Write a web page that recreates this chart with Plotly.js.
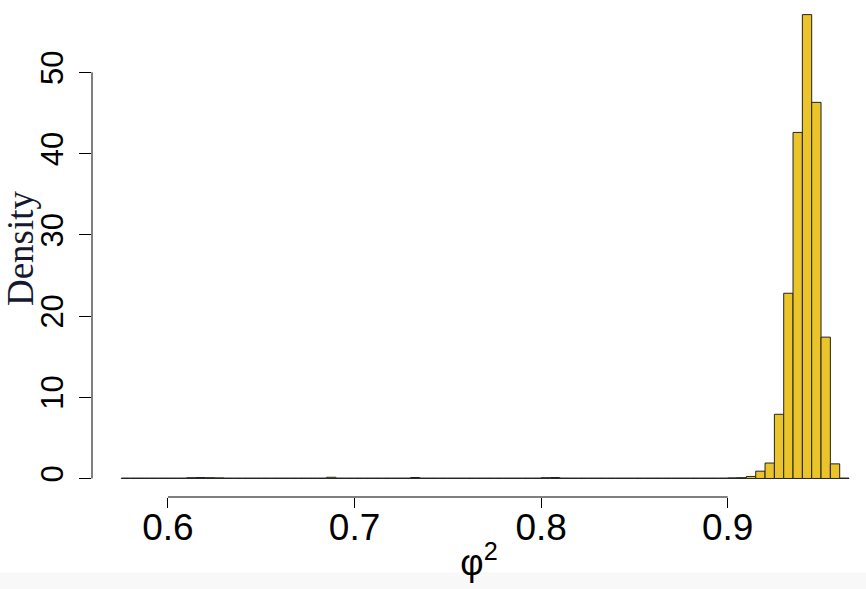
<!DOCTYPE html>
<html>
<head>
<meta charset="utf-8">
<script src="https://cdn.plot.ly/plotly-3.0.1.min.js"></script>
<style>
  html, body { margin: 0; padding: 0; background: #ffffff; }
  #plot { width: 866px; height: 589px; }
</style>
</head>
<body>
<div id="plot"></div>
<script>
// histogram of phi^2, bins of width 0.005 starting at 0.575
var binStart = 0.575;
var binWidth = 0.005;

// density per bin
var density = [
  0.05, 0.05, 0.05, 0.05, 0.05, 0.05, 0.05,          // 0.575 - 0.610
  0.10, 0.12, 0.10, 0.08,                            // 0.610 - 0.630
  0.05, 0.05, 0.05, 0.05, 0.05, 0.05, 0.05, 0.05, 0.05, 0.05, 0.05, // 0.630 - 0.685
  0.15,                                              // 0.685 - 0.690
  0.05, 0.05, 0.05, 0.05, 0.05, 0.05, 0.05, 0.05,    // 0.690 - 0.730
  0.12,                                              // 0.730 - 0.735
  0.05, 0.05, 0.05, 0.05, 0.05, 0.05, 0.05, 0.05, 0.05, 0.05, 0.05, 0.05, 0.05, // 0.735 - 0.800
  0.10, 0.12,                                        // 0.800 - 0.810
  0.05, 0.05, 0.05, 0.05, 0.05, 0.05, 0.05, 0.05, 0.05,
  0.05, 0.05, 0.05, 0.05, 0.05, 0.05, 0.05, 0.05, 0.05, // 0.810 - 0.900
  0.08, 0.10, 0.25,                                  // 0.900 - 0.915
  0.9, 1.9, 7.9, 22.8, 42.6, 57.1, 46.3, 17.4, 1.8, 0.05 // 0.915 - 0.965
];

var xTicks = [0.6, 0.7, 0.8, 0.9];
var yTicks = [0, 10, 20, 30, 40, 50];

// bin centres
var centers = density.map(function (d, i) { return binStart + binWidth * (i + 0.5); });

var hist = {
  x: centers,
  y: density,
  type: "bar",
  width: binWidth,
  marker: {
    color: "#EBC42A",
    line: { color: "#222222", width: 1 }
  },
  hoverinfo: "x+y"
};

var layout = {
  width: 866,
  height: 589,
  margin: { l: 92, r: 0, t: 0, b: 92 },
  paper_bgcolor: "#ffffff",
  plot_bgcolor: "#ffffff",
  showlegend: false,
  bargap: 0,
  font: { family: "Liberation Sans, Arial, sans-serif", color: "#000000" },
  xaxis: {
    range: [0.5593, 0.9741],
    tickvals: xTicks,
    ticktext: xTicks.map(function (v) { return v.toFixed(1); }),
    ticks: "outside",
    ticklen: 10,
    tickwidth: 1,
    tickcolor: "#000000",
    tickfont: { size: 37 },
    ticklabelstandoff: -12,
    showline: false,
    showgrid: false,
    zeroline: false,
    title: { text: "φ<sup>2</sup>", font: { size: 36 }, standoff: 2 }
  },
  yaxis: {
    range: [-2.28, 58.9],
    tickvals: yTicks,
    ticks: "outside",
    ticklen: 12,
    tickwidth: 1,
    tickcolor: "#000000",
    tickangle: -90,
    tickfont: { size: 31 },
    ticklabelstandoff: 4,
    showline: false,
    showgrid: false,
    zeroline: false,
    title: {
      text: "Density",
      font: { family: "Liberation Serif, Times New Roman, serif", size: 37, color: "#15182e" },
      standoff: 5
    }
  },
  shapes: [
    // R style axis lines, only between the outer ticks
    { type: "line", xref: "x", yref: "paper", x0: xTicks[0], x1: xTicks[xTicks.length - 1], y0: 0, y1: 0,
      line: { color: "#000000", width: 1 } },
    { type: "line", xref: "paper", yref: "y", x0: 0, x1: 0, y0: yTicks[0], y1: yTicks[yTicks.length - 1],
      line: { color: "#000000", width: 1 } },
    // faint grey strip at the bottom of the screenshot
    { type: "rect", xref: "paper", yref: "paper", x0: -0.12, x1: 1, y0: -0.185, y1: -0.152,
      fillcolor: "#f8f8f8", line: { width: 0 }, layer: "below" }
  ]
};

Plotly.newPlot("plot", [hist], layout, { displayModeBar: false, staticPlot: true });
</script>
</body>
</html>
